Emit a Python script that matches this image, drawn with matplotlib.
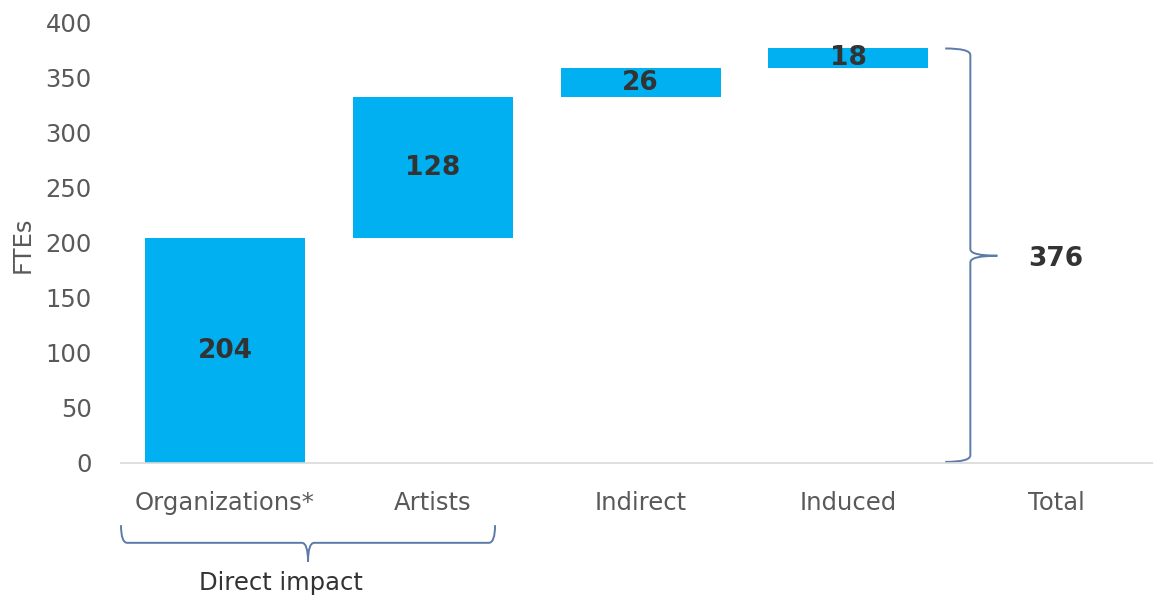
import matplotlib.pyplot as plt
from matplotlib.path import Path
from matplotlib.patches import PathPatch
import matplotlib.transforms as mtransforms

categories = ['Organizations*', 'Artists', 'Indirect', 'Induced', 'Total']
values = [204, 128, 26, 18]
total = 376

bar_color = '#00B0F0'
text_gray = '#595959'
brace_color = '#5B7BA8'

fig = plt.figure(figsize=(11.53, 6.0), dpi=100)
ax = fig.add_axes([121 / 1153, 1 - 463 / 600, 1 - 121 / 1153, 441 / 600])

# waterfall bars
bottoms = []
run = 0
for v in values:
    bottoms.append(run)
    run += v
x = list(range(len(values)))
ax.bar(x, values, bottom=bottoms, width=0.77, color=bar_color)
for xi, b, v in zip(x, bottoms, values):
    ax.text(xi, b + v / 2, str(v), ha='center', va='center', fontsize=19,
            fontweight='bold', color='#333333')

ax.set_xlim(-0.5, 4.466)
ax.set_ylim(0, 400)
ax.set_yticks(range(0, 401, 50))
ax.set_xticks(range(len(categories)))
ax.set_xticklabels(categories)
ax.tick_params(axis='both', length=0, labelsize=17.5, labelcolor=text_gray)
ax.tick_params(axis='x', pad=20)
ax.tick_params(axis='y', pad=21)
for s in ['top', 'right', 'left']:
    ax.spines[s].set_visible(False)
ax.spines['bottom'].set_color('#D9D9D9')
ax.spines['bottom'].set_linewidth(1.2)
ax.set_ylabel('FTEs', fontsize=17.5, color=text_gray)
ax.yaxis.set_label_coords(-0.084, 0.494)

# right brace for the total
xl, xm, xt = 3.466, 3.587, 3.717
top, bot = total, 1
mid = total / 2
r = 6
verts = [(xl, top), (xm, top), (xm, top - r),
         (xm, mid + r), (xm, mid), (xt, mid),
         (xm, mid), (xm, mid - r),
         (xm, bot + r), (xm, bot), (xl, bot)]
codes = [Path.MOVETO, Path.CURVE3, Path.CURVE3,
         Path.LINETO, Path.CURVE3, Path.CURVE3,
         Path.CURVE3, Path.CURVE3,
         Path.LINETO, Path.CURVE3, Path.CURVE3]
ax.add_patch(PathPatch(Path(verts, codes), fill=False, edgecolor=brace_color,
                       linewidth=1.4, clip_on=False))
ax.text(4.0, mid - 3, str(total), ha='center', va='center', fontsize=19,
        fontweight='bold', color='#333333')

# bottom brace for direct impact
trans = mtransforms.blended_transform_factory(ax.transData, ax.transAxes)
x0, x1, xc = -0.5, 1.30, 0.40
yb, ye, ytip = -0.181, -0.141, -0.224
rx = 0.03
bverts = [(x0, ye), (x0, yb), (x0 + rx, yb),
          (xc - rx, yb), (xc, yb), (xc, ytip),
          (xc, yb), (xc + rx, yb),
          (x1 - rx, yb), (x1, yb), (x1, ye)]
bcodes = [Path.MOVETO, Path.CURVE3, Path.CURVE3,
          Path.LINETO, Path.CURVE3, Path.CURVE3,
          Path.CURVE3, Path.CURVE3,
          Path.LINETO, Path.CURVE3, Path.CURVE3]
ax.add_patch(PathPatch(Path(bverts, bcodes), fill=False, edgecolor=brace_color,
                       linewidth=1.4, clip_on=False, transform=trans))
ax.text(0.27, -0.272, 'Direct impact', transform=trans, ha='center',
        va='center', fontsize=17.5, color='#333333')

fig.savefig('out.png', dpi=100)
